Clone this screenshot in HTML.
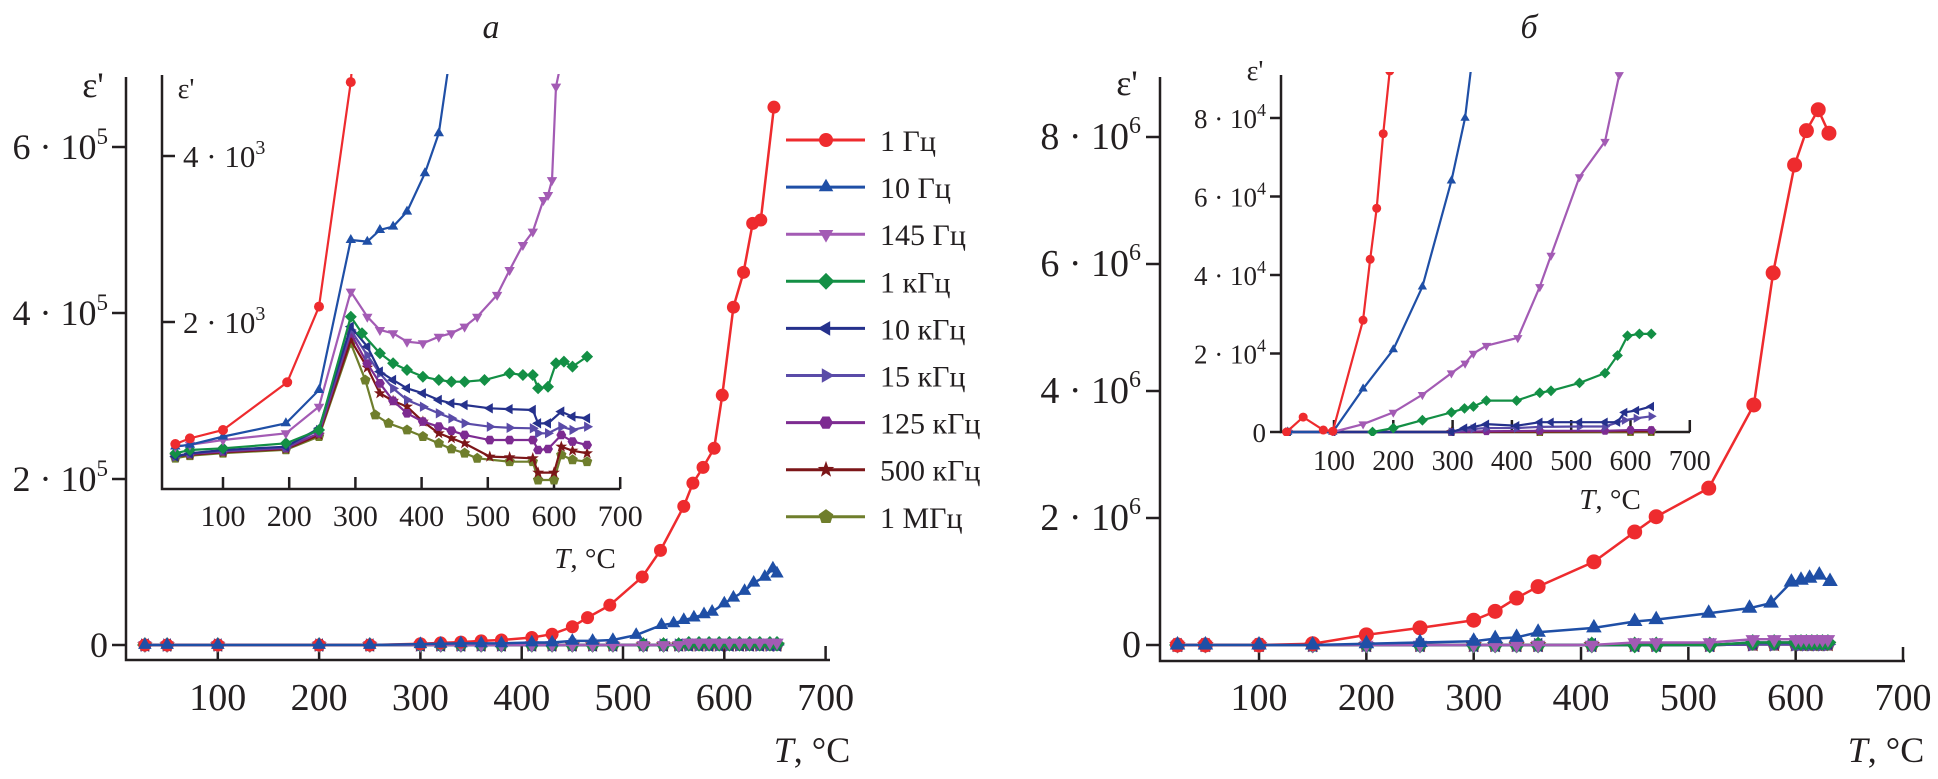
<!DOCTYPE html>
<html><head><meta charset="utf-8"><style>
html,body{margin:0;padding:0;background:#fff}
svg{display:block}
text{font-family:"Liberation Serif",serif;fill:#231f20}
</style></head><body>
<svg id="s" width="1938" height="779" viewBox="0 0 1938 779" xmlns="http://www.w3.org/2000/svg">
<defs>
<clipPath id="cL"><rect x="162" y="74" width="470" height="420"/></clipPath>
<clipPath id="cR"><rect x="1281" y="72" width="420" height="364"/></clipPath>
</defs>
<g stroke="#231f20" stroke-width="2.5" fill="none">
<path d="M126 77V660H830"/>
<path d="M162 75V489H620"/>
<path d="M1160 77V661H1905"/>
<path d="M1281 75V432H1690"/>
</g>
<g id="ticks" stroke="#231f20" stroke-width="2.5"></g>
<g id="labels"></g>
<g id="data"></g>
<text x="491" y="38" font-size="34" font-style="italic" text-anchor="middle">а</text>
<text x="1529" y="38" font-size="34" font-style="italic" text-anchor="middle">б</text>
<text x="93" y="97" font-size="36" text-anchor="middle">ε'</text>
<text x="186" y="98" font-size="28" text-anchor="middle">ε'</text>
<text x="1127" y="95" font-size="36" text-anchor="middle">ε'</text>
<text x="1255" y="80" font-size="28" text-anchor="middle">ε'</text>
<text x="812" y="762" font-size="36" text-anchor="middle"><tspan font-style="italic">T</tspan>, °C</text>
<text x="585" y="568" font-size="29" text-anchor="middle"><tspan font-style="italic">T</tspan>, °C</text>
<text x="1886" y="762" font-size="36" text-anchor="middle"><tspan font-style="italic">T</tspan>, °C</text>
<text x="1610" y="509" font-size="29" text-anchor="middle"><tspan font-style="italic">T</tspan>, °C</text>
</svg>
<script>
const NS="http://www.w3.org/2000/svg";
function el(p,t,a,txt){const e=document.createElementNS(NS,t);for(const k in a)e.setAttribute(k,a[k]);if(txt!==undefined)e.innerHTML=txt;p.appendChild(e);return e;}
const T=document.getElementById('ticks'),L=document.getElementById('labels'),D=document.getElementById('data');
// axes ticks
const Lx=t=>116.5+1.013*t, Ly=v=>645-v*166/2e5;
const Ix=t=>156.8+0.662*t, Iy=v=>488-v*0.083;
const Rx=t=>1151.7+1.0733*t, Ry=v=>645-v*127/2e6;
const Jx=t=>1274.7+0.593*t, Jy=v=>432-v*78.5/2e4;
for(let t=100;t<=700;t+=100){
 el(T,'line',{x1:Lx(t),x2:Lx(t),y1:660,y2:646});
 el(L,'text',{x:Lx(t),y:710,'font-size':38,'text-anchor':'middle'},t);
 el(T,'line',{x1:Ix(t),x2:Ix(t),y1:489,y2:477});
 el(L,'text',{x:Ix(t),y:526,'font-size':30,'text-anchor':'middle'},t);
 el(T,'line',{x1:Rx(t),x2:Rx(t),y1:661,y2:647});
 el(L,'text',{x:Rx(t),y:710,'font-size':38,'text-anchor':'middle'},t);
 el(T,'line',{x1:Jx(t),x2:Jx(t),y1:432,y2:420});
 el(L,'text',{x:Jx(t),y:470,'font-size':28,'text-anchor':'middle'},t);
}
// y ticks
[[0,'0'],[2e5,'2'],[4e5,'4'],[6e5,'6']].forEach(([v,s])=>{const y=Ly(v);el(T,'line',{x1:112,x2:126,y1:y,y2:y});
 el(L,'text',{x:108,y:y+12,'font-size':36,'text-anchor':'end'},v? s+' · 10<tspan font-size="23" dy="-15">5</tspan>':'0');});
[[2000,'2'],[4000,'4']].forEach(([v,s])=>{const y=Iy(v);el(T,'line',{x1:162,x2:175,y1:y,y2:y});
 el(L,'text',{x:183,y:y+11,'font-size':31},s+' · 10<tspan font-size="20" dy="-13">3</tspan>');});
[[0,'0'],[2e6,'2'],[4e6,'4'],[6e6,'6'],[8e6,'8']].forEach(([v,s])=>{const y=Ry(v);el(T,'line',{x1:1146,x2:1160,y1:y,y2:y});
 el(L,'text',{x:1141,y:y+12,'font-size':38,'text-anchor':'end'},v? s+' · 10<tspan font-size="24" dy="-16">6</tspan>':'0');});
[[0,'0'],[2e4,'2'],[4e4,'4'],[6e4,'6'],[8e4,'8']].forEach(([v,s])=>{const y=Jy(v);el(T,'line',{x1:1270,x2:1281,y1:y,y2:y});
 el(L,'text',{x:1266,y:y+10,'font-size':27,'text-anchor':'end'},v? s+' · 10<tspan font-size="18" dy="-12">4</tspan>':'0');});
// series
const S=[
 {n:'1 Гц',c:'#ee2b2e',m:'o'},{n:'10 Гц',c:'#1f4fa6',m:'^'},{n:'145 Гц',c:'#a35bb4',m:'v'},
 {n:'1 кГц',c:'#138f45',m:'d'},{n:'10 кГц',c:'#25318c',m:'<'},{n:'15 кГц',c:'#5a4ba8',m:'>'},
 {n:'125 кГц',c:'#7d2b91',m:'h'},{n:'500 кГц',c:'#7c1618',m:'*'},{n:'1 МГц',c:'#6f7e2c',m:'p'}];
function poly(n,r,rot,x,y){let p=[];for(let i=0;i<n;i++){const a=rot+i*2*Math.PI/n;p.push((x+r*Math.cos(a)).toFixed(1)+','+(y+r*Math.sin(a)).toFixed(1));}return p.join(' ');}
function mark(g,m,x,y,r,c){
 const P=Math.PI;
 if(m==='o')return el(g,'circle',{cx:x,cy:y,r:r,fill:c});
 let pts;
 if(m==='^')pts=poly(3,r*1.2,-P/2,x,y);else if(m==='v')pts=poly(3,r*1.2,P/2,x,y);
 else if(m==='<')pts=poly(3,r*1.2,P,x,y);else if(m==='>')pts=poly(3,r*1.2,0,x,y);
 else if(m==='d')pts=poly(4,r*1.2,0,x,y);else if(m==='h')pts=poly(6,r,0,x,y);
 else if(m==='p')pts=poly(5,r*1.1,-P/2,x,y);
 else {let a=[];for(let i=0;i<10;i++){const rr=i%2?r*0.5:r*1.25,an=-P/2+i*P/5;a.push((x+rr*Math.cos(an)).toFixed(1)+','+(y+rr*Math.sin(an)).toFixed(1));}pts=a.join(' ');}
 el(g,'polygon',{points:pts,fill:c});
}
function draw(g,data,fx,fy,c,m,r,lw){
 const pts=data.map(([t,v])=>[fx(t),fy(v)]);
 el(g,'polyline',{points:pts.map(p=>p.join(',')).join(' '),fill:'none',stroke:c,'stroke-width':lw});
 pts.forEach(p=>mark(g,m,p[0],p[1],r,c));
}
const P=s=>s.split(' ').map(q=>q.split(':').map(Number));
// left inset
const I=[
 P('28:530 50:598 100:699 197:1274 245:2185 293:4890 300:5600'),
 P('28:500 50:520 100:619 195:779 245:1181 293:2988 318:2968 337:3109 357:3150 378:3330 405:3792 426:4274 441:5100'),
 P('28:500 50:520 100:578 195:659 245:980 293:2366 318:2064 337:1904 357:1864 378:1763 402:1743 426:1823 445:1864 465:1944 484:2064 514:2326 533:2627 553:2928 568:3089 584:3470 591:3530 597:3710 603:4836 610:5100'),
 P('28:418 50:458 100:478 195:538 245:699 293:2064 310:1864 337:1623 357:1503 378:1422 402:1341 426:1301 445:1281 465:1281 495:1301 533:1382 553:1362 568:1362 576:1201 591:1221 603:1503 615:1523 628:1463 650:1583'),
 P('28:378 50:418 100:458 195:498 245:719 293:1944 318:1703 337:1402 357:1301 378:1201 402:1141 426:1060 445:1020 465:1000 503:960 533:950 568:940 576:779 591:779 611:920 628:860 650:840'),
 P('28:378 50:418 100:450 195:490 245:700 293:1904 318:1600 337:1382 357:1200 378:1060 402:980 426:900 445:840 465:779 503:739 533:725 568:719 576:659 591:660 611:739 628:700 650:739'),
 P('28:390 50:410 100:440 195:480 245:660 293:1864 318:1500 337:1261 357:1050 378:900 402:800 426:739 445:690 465:639 503:578 533:578 568:578 576:458 591:470 611:639 628:560 650:518'),
 P('28:380 50:400 100:430 195:470 245:640 293:1783 318:1450 337:1141 357:1050 378:980 402:800 426:659 445:600 465:538 503:378 533:370 568:358 576:185 600:185 611:498 628:450 650:418'),
 P('28:360 50:390 100:420 195:460 245:620 293:1743 315:1300 330:880 350:779 378:699 402:620 426:538 445:470 465:420 484:358 533:317 568:317 576:96 600:96 611:398 628:340 650:317')];
const gI=el(D,'g',{'clip-path':'url(#cL)'});
for(let i=8;i>=0;i--)draw(gI,I[i],Ix,Iy,S[i].c,S[i].m,5,2.2);
// left main
const LT=[28,50,100,200,250,300,320,340,360,380,410,430,450,470,490,520,540,555,565,575,585,595,605,615,625,635,645,652];
const gL=el(D,'g',{});
for(let i=8;i>=2;i--)draw(gL,LT.map(t=>[t,t>560?(i===2?3000:(i===3?1500:0)):0]),Lx,Ly,S[i].c,S[i].m,6.5,2.5);
draw(gL,P('28:0 50:0 100:0 200:0 250:0 300:1500 320:2500 340:3500 360:5000 380:6000 410:9000 430:13000 450:22000 465:33000 487:48000 519:82000 537:114000 560:167000 569:195000 579:214000 590:237000 598:301000 609:407000 619:449000 628:508000 636:512000 649:648000'),Lx,Ly,S[0].c,'o',6.5,2.5);
draw(gL,P('28:0 50:0 100:0 200:0 250:0 300:1000 320:1500 340:2000 360:2000 380:2000 410:3000 430:3000 450:5000 470:5000 490:6000 513:12000 538:24000 550:26000 560:30000 570:33000 580:37000 588:40000 600:50000 609:57000 620:65000 629:75000 640:82000 648:92000 652:86000'),Lx,Ly,S[1].c,'^',6.5,2.5);
// right inset
const J=[
 P('20:0 48:3800 82:500 98:200 149:28500 161:44000 172:57000 183:76000 194:92000'),
 P('22:0 98:0 149:11000 200:21000 249:37000 298:64000 321:80000 333:95000'),
 P('22:0 98:0 149:2000 200:5000 249:9500 298:15000 321:17500 335:20000 357:22000 410:24000 447:37000 466:45000 514:65000 557:74000 581:91000'),
 P('165:0 200:1000 249:3000 298:5000 320:6000 335:6500 357:8000 408:8000 447:10000 466:10500 514:12500 557:15000 578:19500 595:24500 615:25000 635:25000'),
 P('22:0 98:0 298:0 320:1000 335:1300 357:2000 408:1600 447:2500 466:2500 514:2500 557:2500 578:2500 590:5000 610:5500 635:6500'),
 P('22:0 298:0 335:800 357:1000 408:1000 447:1300 514:1400 557:1400 590:3000 610:3500 635:4000'),
 P('22:0 298:0 357:200 447:300 557:300 600:500 635:500'),
 P('22:0 298:0 447:100 600:200 635:200'),
 P('22:0 298:0 447:0 600:0 635:0')];
const gJ=el(D,'g',{'clip-path':'url(#cR)'});
for(let i=8;i>=0;i--)draw(gJ,J[i],Jx,Jy,S[i].c,S[i].m,4.5,2.2);
// right main
const RT=[24,50,100,150,200,250,300,320,340,360,410,450,470,520,560,580,600,605,610,615,620,625,630];
const gR=el(D,'g',{});
for(let i=8;i>=2;i--)draw(gR,RT.map(t=>[t,t>=560?(i===2?90000:(i<5?40000:10000)):(i===2&&t>=450?40000:0)]),Rx,Ry,S[i].c,S[i].m,7,2.5);
draw(gR,P('24:0 50:0 100:0 150:20000 200:160000 250:270000 300:390000 320:530000 340:740000 360:920000 412:1310000 450:1780000 470:2020000 519:2470000 561:3780000 579:5860000 599:7560000 610:8100000 621:8430000 631:8060000'),Rx,Ry,S[0].c,'o',7.5,2.5);
draw(gR,P('24:0 50:0 100:0 150:0 200:20000 250:40000 300:60000 320:100000 340:120000 360:200000 412:270000 450:370000 470:400000 519:500000 557:580000 577:660000 596:990000 605:1020000 613:1050000 622:1100000 632:1000000'),Rx,Ry,S[1].c,'^',7.5,2.5);
// legend
const gG=el(D,'g',{});
S.forEach((s,i)=>{const y=140+i*47.1;el(gG,'line',{x1:786,x2:865,y1:y,y2:y,stroke:s.c,'stroke-width':3});
 mark(gG,s.m,826,y,7,s.c);el(gG,'text',{x:880,y:y+11,'font-size':30},s.n);});
</script>
</body></html>
